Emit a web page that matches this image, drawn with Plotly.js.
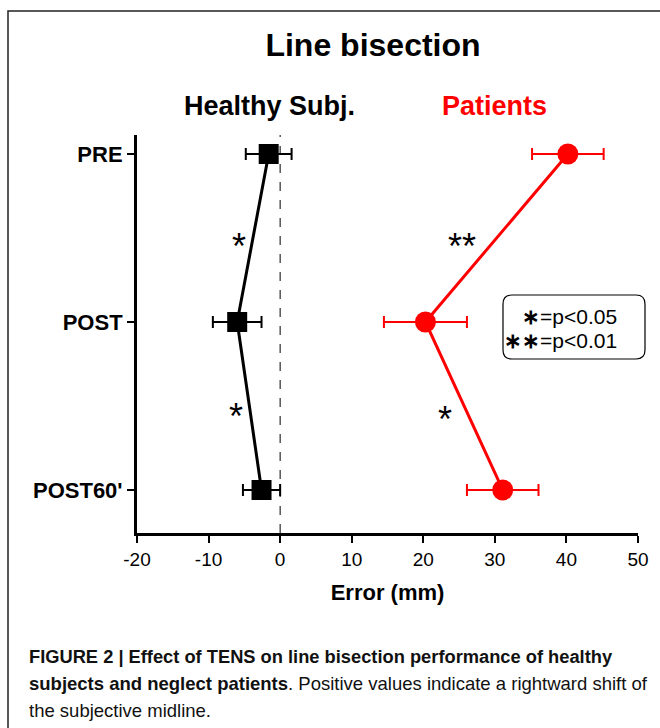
<!DOCTYPE html>
<html>
<head>
<meta charset="utf-8">
<script src="https://cdn.plot.ly/plotly-3.0.1.min.js"></script>
<style>html,body{margin:0;padding:0;background:#fff;}</style>
</head>
<body>
<div id="chart" style="width:660px;height:728px;"></div>
<script>
// ---- data ----
const categories = ["PRE", "POST", "POST60'"];
const healthyMean = [-1.6, -6.0, -2.6];
const healthyErr = [3.2, 3.4, 2.6];
const patientMean = [40.2, 20.3, 31.1];
const patientErr = [5.0, 5.8, 5.0];
const xTicks = [-20, -10, 0, 10, 20, 30, 40, 50];

// ---- layout helpers (pixel -> paper) ----
const W = 660, H = 728;
const M = {l: 137, r: 22, t: 135, b: 195};
const PW = W - M.l - M.r, PH = H - M.t - M.b;
const PX = px => (px - M.l) / PW;
const PY = py => (M.t + PH - py) / PH;

const FONT = "Liberation Sans, Arial, Helvetica, sans-serif";
const CAP = "Liberation Sans, Arial, Helvetica, sans-serif";

const traces = [
  {
    type: 'scatter', mode: 'lines+markers', name: 'Healthy Subj.',
    x: healthyMean, y: categories,
    line: {color: '#000', width: 3},
    marker: {symbol: 'square', size: 20, color: '#000'},
    error_x: {type: 'data', array: healthyErr, visible: true, color: '#000', thickness: 2, width: 6},
    cliponaxis: false
  },
  {
    type: 'scatter', mode: 'lines+markers', name: 'Patients',
    x: patientMean, y: categories,
    line: {color: '#ff0000', width: 3},
    marker: {symbol: 'circle', size: 21, color: '#ff0000'},
    error_x: {type: 'data', array: patientErr, visible: true, color: '#ff0000', thickness: 2, width: 6},
    cliponaxis: false
  }
];

// rounded legend box path in paper coords
function roundRect(x0, y0, x1, y1, r) {
  const a = PX(x0), b = PX(x1), c = PY(y0), d = PY(y1);
  const rx = r / PW, ry = r / PH;
  return `M ${a + rx},${c} L ${b - rx},${c} Q ${b},${c} ${b},${c - ry} L ${b},${d + ry} Q ${b},${d} ${b - rx},${d} L ${a + rx},${d} Q ${a},${d} ${a},${d + ry} L ${a},${c - ry} Q ${a},${c} ${a + rx},${c} Z`;
}

const starFont = {family: FONT, size: 36, color: '#000'};

const layout = {
  width: W, height: H,
  margin: M,
  paper_bgcolor: '#fff', plot_bgcolor: '#fff',
  showlegend: false,
  title: {
    text: '<b>Line bisection</b>',
    font: {family: FONT, size: 32, color: '#000'},
    x: PX(373), xref: 'paper', xanchor: 'center',
    y: 1 - 45 / H, yref: 'container', yanchor: 'middle'
  },
  xaxis: {
    range: [-20, 50], tickvals: xTicks, ticktext: xTicks.map(String),
    showgrid: false, zeroline: false,
    showline: true, linecolor: '#000', linewidth: 3,
    ticks: 'outside', ticklen: 7, tickwidth: 2, tickcolor: '#000',
    tickfont: {family: FONT, size: 19, color: '#000'},
    title: {text: 'Error (mm)', font: {family: FONT, size: 22, color: '#000', weight: 'bold'}, standoff: 16},
    fixedrange: true
  },
  yaxis: {
    type: 'category', categoryorder: 'array', categoryarray: categories.slice().reverse(),
    range: [-0.256, 2.113],
    showgrid: false, zeroline: false,
    showline: true, linecolor: '#000', linewidth: 3,
    ticks: 'outside', ticklen: 7, tickwidth: 2, tickcolor: '#000',
    tickfont: {family: FONT, size: 22, color: '#000', weight: 'bold'},
    ticklabelstandoff: 0,
    fixedrange: true
  },
  shapes: [
    {type: 'line', xref: 'x', yref: 'paper', x0: 0, x1: 0, y0: 0, y1: 1,
     line: {color: '#000', width: 1, dash: 'dash'}, layer: 'below'},
    {type: 'path', xref: 'paper', yref: 'paper', path: roundRect(503, 295, 645, 359, 9),
     line: {color: '#000', width: 1.2}, fillcolor: 'rgba(0,0,0,0)'},
    {type: 'rect', xref: 'paper', yref: 'paper', x0: PX(8), x1: PX(664), y0: PY(740), y1: PY(11),
     line: {color: '#222', width: 1.5}, fillcolor: 'rgba(0,0,0,0)'}
  ],
  annotations: [
    {xref: 'x', x: -1.5, yref: 'paper', y: PY(106), text: '<b>Healthy Subj.</b>', showarrow: false,
     font: {family: FONT, size: 27, color: '#000'}, xanchor: 'center', yanchor: 'middle'},
    {xref: 'x', x: 30, yref: 'paper', y: PY(106), text: '<b>Patients</b>', showarrow: false,
     font: {family: FONT, size: 27, color: '#ff0000'}, xanchor: 'center', yanchor: 'middle'},
    {xref: 'x', x: -5.7, yref: 'y', y: 1.5, text: '*', showarrow: false, font: starFont, yshift: -9},
    {xref: 'x', x: -6.1, yref: 'y', y: 0.49, text: '*', showarrow: false, font: starFont, yshift: -9},
    {xref: 'x', x: 25.4, yref: 'y', y: 1.5, text: '**', showarrow: false, font: starFont, yshift: -9},
    {xref: 'x', x: 23.0, yref: 'y', y: 0.476, text: '*', showarrow: false, font: starFont, yshift: -9},
    {xref: 'paper', x: PX(619), yref: 'paper', y: PY(316), xanchor: 'right', yanchor: 'middle', showarrow: false,
     text: '<b>∗</b>=p&lt;0.05', font: {family: FONT, size: 21, color: '#000'}},
    {xref: 'paper', x: PX(619), yref: 'paper', y: PY(340), xanchor: 'right', yanchor: 'middle', showarrow: false,
     text: '<b>∗∗</b>=p&lt;0.01', font: {family: FONT, size: 21, color: '#000'}},
    {xref: 'paper', x: PX(27), yref: 'paper', y: PY(656), xanchor: 'left', yanchor: 'middle', showarrow: false,
     text: '<b>FIGURE 2 | Effect of TENS on line bisection performance of healthy</b>',
     font: {family: CAP, size: 18.3, color: '#111'}},
    {xref: 'paper', x: PX(27), yref: 'paper', y: PY(683), xanchor: 'left', yanchor: 'middle', showarrow: false,
     text: '<b>subjects and neglect patients</b>. Positive values indicate a rightward shift of',
     font: {family: CAP, size: 18.5, color: '#111'}},
    {xref: 'paper', x: PX(27), yref: 'paper', y: PY(710), xanchor: 'left', yanchor: 'middle', showarrow: false,
     text: 'the subjective midline.',
     font: {family: CAP, size: 18.5, color: '#111'}}
  ]
};

Plotly.newPlot('chart', traces, layout, {displayModeBar: false, staticPlot: true});
</script>
</body>
</html>
